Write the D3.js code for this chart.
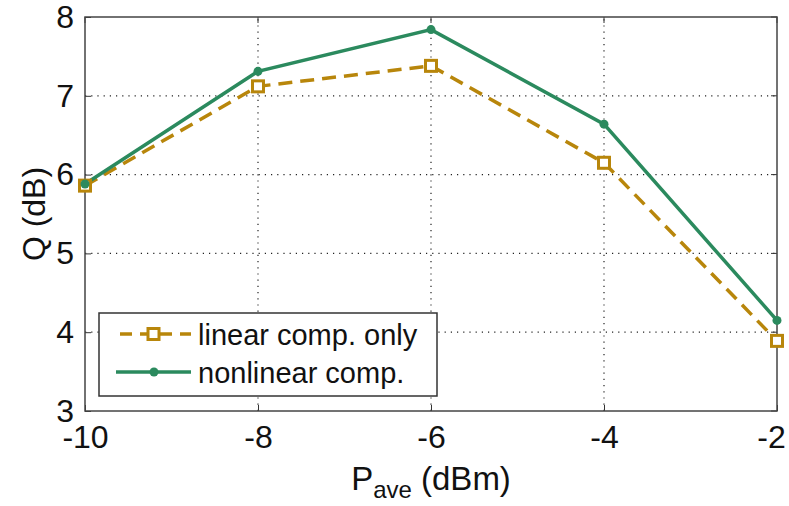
<!DOCTYPE html>
<html lang="en">
<head>
<script src="https://d3js.org/d3.v7.min.js"></script>
<style>
  body { margin: 0; background: #fff; }
  svg text { font-family: Arial, "Liberation Sans", sans-serif; fill: #111; }
</style>
</head>
<body>
<script>
// data
const pave = [-10, -8, -6, -4, -2];
const linearOnly = [5.86, 7.12, 7.38, 6.15, 3.89];
const nonlinear = [5.88, 7.31, 7.84, 6.64, 4.15];
const xTicks = [-10, -8, -6, -4, -2];
const yTicks = [3, 4, 5, 6, 7, 8];
const seriesNames = ["linear comp. only", "nonlinear comp."];

const W = 789, H = 506;
const m = { left: 85, right: 12, top: 17, bottom: 95 };

const svg = d3.select("body").append("svg")
    .attr("width", W).attr("height", H);

const x = d3.scaleLinear().domain([-10, -2]).range([m.left, W - m.right]);
const y = d3.scaleLinear().domain([3, 8]).range([H - m.bottom, m.top]);

// dotted grid
svg.append("g").selectAll("line.gx")
    .data(xTicks.slice(1, -1)).enter().append("line")
    .attr("x1", d => x(d)).attr("x2", d => x(d))
    .attr("y1", y(3)).attr("y2", y(8))
    .attr("stroke", "#222").attr("stroke-width", 1.2)
    .attr("stroke-dasharray", "1.2,5");
svg.append("g").selectAll("line.gy")
    .data(yTicks.slice(1, -1)).enter().append("line")
    .attr("x1", x(-10)).attr("x2", x(-2))
    .attr("y1", d => y(d)).attr("y2", d => y(d))
    .attr("stroke", "#222").attr("stroke-width", 1.2)
    .attr("stroke-dasharray", "1.2,5");

// axes
const fs = "32px";
const xAxis = svg.append("g").attr("transform", `translate(0,${y(3)})`)
    .call(d3.axisBottom(x).tickValues(xTicks).tickSizeInner(-6).tickSizeOuter(0).tickPadding(14)
        .tickFormat(d => d < 0 ? "-" + Math.abs(d) : d));
xAxis.selectAll("text").style("font-size", fs).attr("fill", "#111")
    .attr("dx", d => d === -2 ? -6 : 0);
const yAxis = svg.append("g").attr("transform", `translate(${x(-10)},0)`)
    .call(d3.axisLeft(y).tickValues(yTicks).tickSizeInner(-6).tickSizeOuter(0).tickPadding(11)
        .tickFormat(d3.format("d")));
yAxis.selectAll("text").style("font-size", fs).attr("fill", "#111");
svg.selectAll(".domain").remove();
svg.selectAll(".tick line").attr("stroke", "#333");

// top/right ticks
svg.append("g").selectAll("line").data(xTicks).enter().append("line")
    .attr("x1", d => x(d)).attr("x2", d => x(d))
    .attr("y1", y(8)).attr("y2", y(8) + 6).attr("stroke", "#333");
svg.append("g").selectAll("line").data(yTicks).enter().append("line")
    .attr("x1", x(-2)).attr("x2", x(-2) - 6)
    .attr("y1", d => y(d)).attr("y2", d => y(d)).attr("stroke", "#333");

// frame
svg.append("rect")
    .attr("x", x(-10)).attr("y", y(8))
    .attr("width", x(-2) - x(-10)).attr("height", y(3) - y(8))
    .attr("fill", "none").attr("stroke", "#444").attr("stroke-width", 1.5);

const gold = "#b8860b", green = "#2b8a5e";
const line = d3.line().x(d => x(d[0])).y(d => y(d[1]));

const linData = pave.map((p, i) => [p, linearOnly[i]]);
const nonData = pave.map((p, i) => [p, nonlinear[i]]);

svg.append("path").datum(linData).attr("d", line)
    .attr("fill", "none").attr("stroke", gold).attr("stroke-width", 3.5)
    .attr("stroke-dasharray", "14,8");
svg.append("path").datum(nonData).attr("d", line)
    .attr("fill", "none").attr("stroke", green).attr("stroke-width", 3.5);

svg.append("g").selectAll("rect").data(linData).enter().append("rect")
    .attr("x", d => x(d[0]) - 5.5).attr("y", d => y(d[1]) - 5.5)
    .attr("width", 11).attr("height", 11)
    .attr("fill", "#fff").attr("stroke", gold).attr("stroke-width", 3);
svg.append("g").selectAll("circle").data(nonData).enter().append("circle")
    .attr("cx", d => x(d[0])).attr("cy", d => y(d[1])).attr("r", 4.5)
    .attr("fill", green);

// axis labels
svg.append("text")
    .attr("transform", `translate(45,${(y(3) + y(8)) / 2}) rotate(-90)`)
    .attr("text-anchor", "middle").style("font-size", "32px").text("Q (dB)");
const xl = svg.append("text")
    .attr("x", (x(-10) + x(-2)) / 2).attr("y", 490)
    .attr("text-anchor", "middle").style("font-size", "33px");
xl.append("tspan").text("P");
xl.append("tspan").attr("dy", 8).style("font-size", "24px").text("ave");
xl.append("tspan").attr("dy", -8).text(" (dBm)");

// legend
const lg = svg.append("g");
lg.append("rect").attr("x", 99).attr("y", 313).attr("width", 338).attr("height", 83)
    .attr("fill", "#fff").attr("stroke", "#333").attr("stroke-width", 1.5);
const rows = [
    { name: seriesNames[0], color: gold, dash: "14,8", marker: "square", cy: 334 },
    { name: seriesNames[1], color: green, dash: null, marker: "dot", cy: 372 }
];
rows.forEach(r => {
    lg.append("line").attr("x1", 116).attr("x2", 191).attr("y1", r.cy).attr("y2", r.cy)
        .attr("stroke", r.color).attr("stroke-width", 3.5)
        .attr("stroke-dasharray", r.dash ? "12,8" : null)
        .attr("stroke-dashoffset", r.dash ? -4 : null);
    if (r.marker === "square") {
        lg.append("rect").attr("x", 148).attr("y", r.cy - 5.5).attr("width", 11).attr("height", 11)
            .attr("fill", "#fff").attr("stroke", r.color).attr("stroke-width", 3);
    } else {
        lg.append("circle").attr("cx", 154).attr("cy", r.cy).attr("r", 4.5).attr("fill", r.color);
    }
    lg.append("text").attr("x", 198).attr("y", r.cy + 11).style("font-size", "29px").text(r.name);
});
</script>
</body>
</html>
